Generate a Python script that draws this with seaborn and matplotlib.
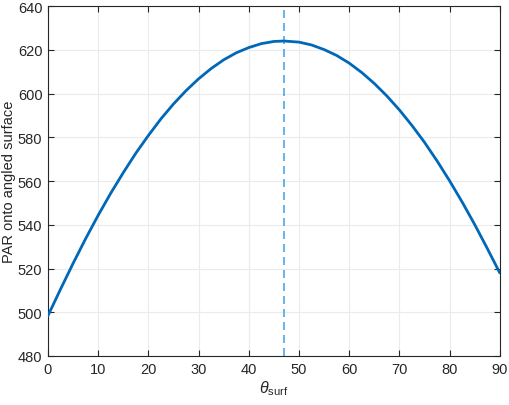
import matplotlib
matplotlib.use("Agg")
import matplotlib.pyplot as plt
import seaborn as sns
import pandas as pd

theta_surf = [0, 2.5, 5, 7.5, 10, 12.5, 15, 17.5, 20, 22.5, 25, 27.5, 30, 32.5, 35, 37.5,
              40, 42.5, 45, 47, 50, 52.5, 55, 57.5, 60, 62.5, 65, 67.5, 70, 72.5, 75, 77.5,
              80, 82.5, 85, 87.5, 90]
par_values = [498.4, 510.5, 522.3, 533.6, 544.3, 554.4, 563.8, 572.7, 580.8, 588.4, 595.2,
              601.3, 606.7, 611.4, 615.4, 618.6, 621.0, 622.8, 623.8, 624.0, 623.5, 622.2,
              620.1, 617.4, 613.9, 609.6, 604.6, 598.9, 592.5, 585.4, 577.7, 569.2, 560.1,
              550.4, 540.1, 529.2, 518.0]
theta_opt = 47.0
x_ticks = [0, 10, 20, 30, 40, 50, 60, 70, 80, 90]
y_ticks = [480, 500, 520, 540, 560, 580, 600, 620, 640]

sns.set_style("white")
plt.rcParams['font.family'] = ['Liberation Sans', 'DejaVu Sans']
plt.rcParams['mathtext.fontset'] = 'custom'
plt.rcParams['mathtext.rm'] = 'Liberation Sans'
plt.rcParams['mathtext.it'] = 'Liberation Sans:italic'

df = pd.DataFrame({"theta": theta_surf, "par": par_values})

fig = plt.figure(figsize=(5.10, 4.06), dpi=100)
ax = fig.add_axes([0.094, 0.1207, 0.886, 0.862])

ax.axvline(theta_opt, color='#4AA8E6', linestyle=(0, (4.8, 3.0)), linewidth=1.2, zorder=2)
sns.lineplot(data=df, x="theta", y="par", ax=ax, color='#0068B8', linewidth=2.0, zorder=3,
             solid_joinstyle='round', solid_capstyle='round')

ax.set_xlim(0, 90)
ax.set_ylim(480, 640)
ax.set_xticks(x_ticks)
ax.set_yticks(y_ticks)
ax.grid(True, color='#EBEBEB', linewidth=0.8)
ax.set_axisbelow(True)
for s in ax.spines.values():
    s.set_color('#262626')
    s.set_linewidth(0.8)
    s.set_visible(True)
ax.tick_params(direction='in', length=4, width=0.8, color='#262626', labelsize=10.5,
               labelcolor='#262626', top=True, right=True, bottom=True, left=True, pad=4)
ax.set_xlabel(r'$\theta_{\rm surf}$', fontsize=11.5, color='#262626', labelpad=2)
ax.set_ylabel('PAR onto angled surface', fontsize=10.5, color='#262626')
ax.yaxis.set_label_coords(-0.071, 0.5)

fig.savefig("out.png", dpi=100)
